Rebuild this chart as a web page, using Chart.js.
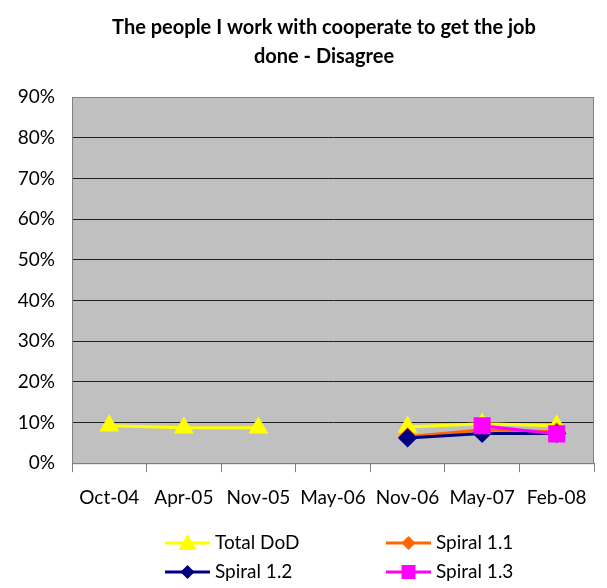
<!DOCTYPE html>
<html>
<head>
<meta charset="utf-8">
<script src="https://cdn.jsdelivr.net/npm/chart.js@4/dist/chart.umd.min.js"></script>
<style>
  html, body { margin: 0; padding: 0; background: #fff; }
  #wrap { width: 607px; height: 588px; position: relative; }
</style>
</head>
<body>
<div id="wrap"><canvas id="surveyChart" width="607" height="588"></canvas></div>
<script>
// chart data
const categories = ["Oct-04", "Apr-05", "Nov-05", "May-06", "Nov-06", "May-07", "Feb-08"];
const totalDoD  = [9.2, 8.7, 8.7, null, 8.9, 9.7, 9.2];
const spiral11  = [null, null, null, null, 6.5, 8.2, 7.7];
const spiral12  = [null, null, null, null, 6.2, 7.3, 7.3];
const spiral13  = [null, null, null, null, null, 9.2, 7.2];
const yTicks    = [0, 10, 20, 30, 40, 50, 60, 70, 80, 90];

const FONT = "Lato, 'Open Sans', sans-serif";

// gray plot area
const plotBackground = {
    id: "plotBackground",
    beforeDraw(chart) {
        const { ctx, chartArea: a } = chart;
        ctx.save();
        ctx.fillStyle = "#c0c0c0";
        ctx.fillRect(a.left, a.top, a.right - a.left, a.bottom - a.top);
        ctx.restore();
    },
    afterDatasetsDraw(chart) {
        const { ctx, chartArea: a } = chart;
        ctx.save();
        ctx.strokeStyle = "#808080";
        ctx.lineWidth = 1;
        ctx.strokeRect(a.left + 0.5, a.top + 0.5, a.right - a.left - 1, a.bottom - a.top);
        ctx.restore();
    }
};

// title + two-column legend, drawn like the spreadsheet one
const titleAndLegend = {
    id: "titleAndLegend",
    afterDraw(chart) {
        const ctx = chart.ctx;
        ctx.save();
        ctx.fillStyle = "#000";
        ctx.textAlign = "center";
        ctx.textBaseline = "middle";
        ctx.font = "bold 20px " + FONT;
        ctx.fillText("The people I work with cooperate to get the job", 324, 28);
        ctx.fillText("done - Disagree", 324, 57);

        const slots = [[165, 543], [386, 543], [165, 572], [386, 572]];
        chart.data.datasets.forEach((ds, i) => {
            const [x, y] = slots[i];
            ctx.strokeStyle = ds.borderColor;
            ctx.lineWidth = 3;
            ctx.beginPath();
            ctx.moveTo(x, y);
            ctx.lineTo(x + 45, y);
            ctx.stroke();
            ctx.fillStyle = ds.pointBackgroundColor;
            const cx = x + 22.5, r = 7;
            ctx.beginPath();
            if (ds.pointStyle === "triangle") {
                ctx.moveTo(cx, y - r - 2);
                ctx.lineTo(cx + r + 2, y + r);
                ctx.lineTo(cx - r - 2, y + r);
            } else if (ds.pointStyle === "rectRot") {
                ctx.moveTo(cx, y - r);
                ctx.lineTo(cx + r, y);
                ctx.lineTo(cx, y + r);
                ctx.lineTo(cx - r, y);
            } else {
                ctx.rect(cx - 7, y - 7, 14, 14);
            }
            ctx.closePath();
            ctx.fill();
            ctx.fillStyle = "#000";
            ctx.textAlign = "left";
            ctx.font = "19px " + FONT;
            ctx.fillText(ds.label, x + 50, y);
        });
        ctx.restore();
    }
};

function series(label, data, color, style, radius, order) {
    return {
        label: label,
        data: data,
        order: order,
        borderColor: color,
        backgroundColor: color,
        pointBackgroundColor: color,
        pointBorderColor: color,
        pointStyle: style,
        pointRadius: radius,
        borderWidth: 3,
        spanGaps: false,
        tension: 0
    };
}

const ctx = document.getElementById("surveyChart").getContext("2d");
const chart = new Chart(ctx, {
    type: "line",
    data: {
        labels: categories,
        datasets: [
            series("Total DoD", totalDoD, "#ffff00", "triangle", 8.5, 4),
            series("Spiral 1.1", spiral11, "#ff6600", "rectRot", 7.5, 3),
            series("Spiral 1.2", spiral12, "#000080", "rectRot", 7.5, 2),
            series("Spiral 1.3", spiral13, "#ff00ff", "rect", 10, 1)
        ]
    },
    options: {
        responsive: false,
        animation: false,
        layout: { padding: { top: 97, left: 7, right: 1, bottom: 65 } },
        plugins: {
            legend: { display: false },
            title: { display: false },
            tooltip: { enabled: false }
        },
        scales: {
            x: {
                offset: true,
                grid: {
                    offset: true,
                    drawOnChartArea: false,
                    color: "#808080",
                    tickLength: 9
                },
                border: { color: "#808080" },
                ticks: {
                    color: "#000",
                    font: { family: FONT, size: 19 },
                    padding: 14,
                    maxRotation: 0,
                    autoSkip: false
                }
            },
            y: {
                min: 0,
                max: 90,
                afterBuildTicks(axis) {
                    axis.ticks = yTicks.map(v => ({ value: v }));
                },
                afterFit(axis) {
                    axis.width = 65;
                },
                grid: {
                    color: "#202020",
                    drawTicks: false
                },
                border: { color: "#808080" },
                ticks: {
                    color: "#000",
                    font: { family: FONT, size: 19 },
                    padding: 17,
                    callback: v => v + "%"
                }
            }
        }
    },
    plugins: [plotBackground, titleAndLegend]
});
</script>
</body>
</html>
